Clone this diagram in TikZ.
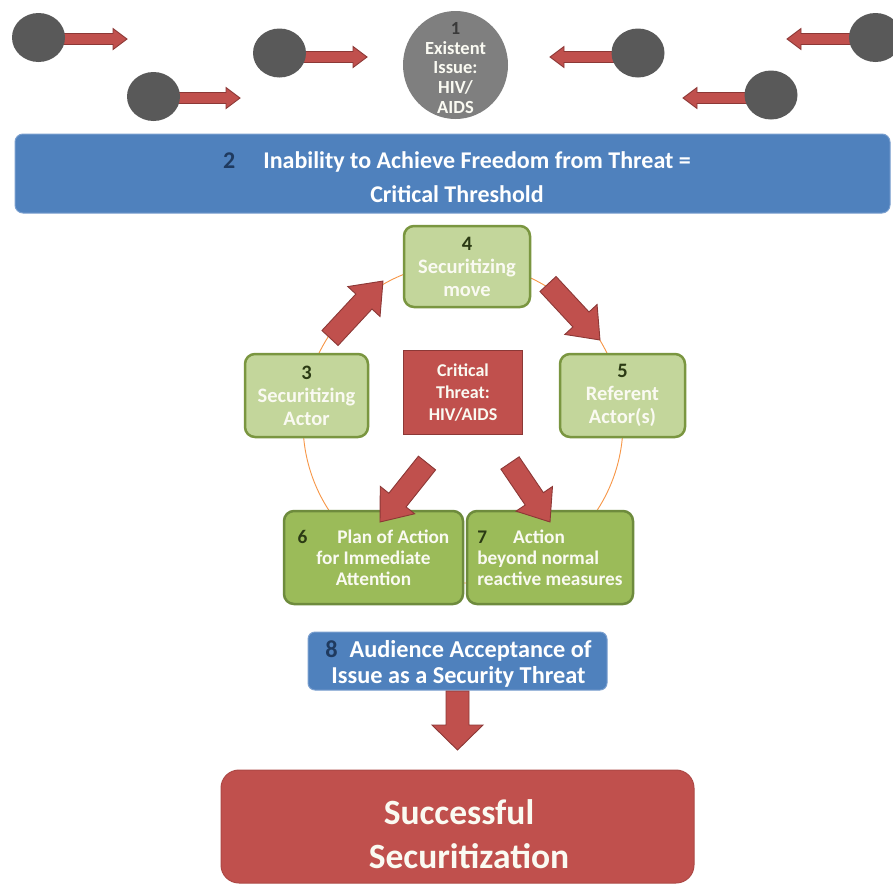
\documentclass[tikz,border=0pt]{standalone}
\usepackage{fontspec}
\setmainfont{Carlito}
\usetikzlibrary{calc,shapes.geometric}
\definecolor{arrred}{HTML}{C0504D}
\definecolor{arrborder}{HTML}{8C3836}
\definecolor{actgray}{HTML}{595959}
\definecolor{midgray}{HTML}{7F7F7F}
\definecolor{numgray}{HTML}{3A3A3A}
\definecolor{barblue}{HTML}{4F81BD}
\definecolor{barborder}{HTML}{7A9FCF}
\definecolor{numblue}{HTML}{1F3A5F}
\definecolor{lgreen}{HTML}{C3D69B}
\definecolor{lgborder}{HTML}{7A9640}
\definecolor{dgreen}{HTML}{9BBB59}
\definecolor{dgborder}{HTML}{6E8B3D}
\definecolor{numgreen}{HTML}{2B3A14}
\definecolor{ringorange}{HTML}{F79646}
\definecolor{boxtext}{HTML}{FAFAF2}

\newcommand\blockarrow[5]{%
  \path[blockarr] let \p1=(#1), \p2=(#2),
    \n1={atan2(\y2-\y1,\x2-\x1)}, \n2={veclen(\x2-\x1,\y2-\y1)} in
    [shift={(\p1)}, rotate=\n1]
    (0pt,#3pt) -- ({\n2-#5pt},#3pt) -- ({\n2-#5pt},#4pt) -- (\n2,0pt)
    -- ({\n2-#5pt},-#4pt) -- ({\n2-#5pt},-#3pt) -- (0pt,-#3pt) -- cycle;}

\tikzset{
  actor/.style={ellipse, fill=actgray, draw=none, minimum width=53pt, minimum height=49pt, inner sep=0pt},
  issue/.style={ellipse, fill=midgray, draw=none, minimum width=105pt, minimum height=108pt, inner sep=0pt},
  issuetext/.style={text=boxtext, align=center, font=\fontsize{18.5}{19.8}\selectfont\bfseries, inner sep=0pt},
  blockarr/.style={fill=arrred, draw=arrborder, line width=0.9pt, line join=miter},
  bluebar/.style={rectangle, rounded corners=8pt, fill=barblue, draw=barborder, line width=1pt, inner sep=0pt},
  bartext/.style={text=white, align=center, font=\fontsize{24}{34}\selectfont\bfseries, inner sep=0pt},
  lbox/.style={rectangle, rounded corners=10pt, fill=lgreen, draw=lgborder, line width=2.5pt,
    text=boxtext, align=center, font=\fontsize{20.5}{23}\selectfont\bfseries, inner sep=0pt},
  dbox/.style={rectangle, rounded corners=10pt, fill=dgreen, draw=dgborder, line width=2.5pt,
    text=boxtext, font=\fontsize{19.3}{21}\selectfont\bfseries, inner sep=0pt},
  critbox/.style={rectangle, fill=arrred, draw=arrborder, line width=1.5pt,
    text=boxtext, align=center, font=\fontsize{18}{22}\selectfont\bfseries, inner sep=0pt},
  audbox/.style={rectangle, rounded corners=7pt, fill=barblue, draw=barborder, line width=1pt, inner sep=0pt},
  audtext/.style={text=white, align=center, font=\fontsize{24.3}{26}\selectfont\bfseries, inner sep=0pt},
  finalbox/.style={rectangle, rounded corners=18pt, fill=arrred, draw=arrred!90!black, line width=1pt, inner sep=0pt},
  finaltext/.style={text=boxtext, align=center, font=\fontsize{35.5}{44}\selectfont\bfseries, inner sep=0pt},
  ring/.style={draw=ringorange, line width=0.9pt}
}

\begin{document}
\begin{tikzpicture}[x=1pt,y=-1pt]
\useasboundingbox (0,0) rectangle (893,884);
\fill[white] (0,0) rectangle (893,884);

% actors and their arrows
\coordinate (p1) at (38.5,37.5);  \coordinate (t1) at (127,39);
\coordinate (p2) at (153.5,96.5); \coordinate (t2) at (240,98);
\coordinate (p3) at (279.5,53);   \coordinate (t3) at (367,57);
\coordinate (p4) at (638,53);     \coordinate (t4) at (550,57);
\coordinate (p5) at (875.5,37.5); \coordinate (t5) at (787,39);
\coordinate (p6) at (771,95);     \coordinate (t6) at (683,98);
\coordinate (s1) at (38.5,39);  \coordinate (s2) at (153.5,98);
\coordinate (s3) at (279.5,57); \coordinate (s4) at (638,57);
\coordinate (s5) at (875.5,39); \coordinate (s6) at (771,98);
\blockarrow{s1}{t1}{5.5}{10.5}{14}
\blockarrow{s2}{t2}{5.5}{10.5}{14}
\blockarrow{s3}{t3}{5.5}{10.5}{14}
\blockarrow{s4}{t4}{5.5}{10.5}{14}
\blockarrow{s5}{t5}{5.5}{10.5}{14}
\blockarrow{s6}{t6}{5.5}{10.5}{14}
\node[actor] (c1) at (p1) {};
\node[actor] (c2) at (p2) {};
\node[actor] (c3) at (p3) {};
\node[actor] (c4) at (p4) {};
\node[actor] (c5) at (p5) {};
\node[actor] (c6) at (p6) {};

\node[issue] (issue) at (455.5,65) {};
\node[issuetext] (issuetxt) at (455.5,68) {{\color{numgray}1}\\Existent\\Issue:\\HIV/\\AIDS};

% threshold bar
\node[bluebar, minimum width=875pt, minimum height=79pt] (bar) at (452.5,173.5) {};
\node[bartext] (bartxt) at (457,177)
  {{\color{numblue}2}\hspace{28pt}Inability to Achieve Freedom from Threat =\\Critical Threshold};

% ring
\draw[ring] (463,423) circle[radius=160];

% cycle boxes
\node[lbox, minimum width=126pt, minimum height=81pt] (b4) at (467,266.5)
  {{\color{numgreen}4}\\Securitizing\\move};
\node[lbox, minimum width=123pt, minimum height=83pt] (b3) at (306.5,395.5)
  {{\color{numgreen}3}\\Securitizing\\Actor};
\node[lbox, minimum width=125pt, minimum height=83pt] (b5) at (622.5,395.5)
  {{\color{numgreen}5}\\Referent\\Actor(s)};
\node[critbox, minimum width=119pt, minimum height=84pt] (crit) at (463,392.5)
  {Critical\\Threat:\\HIV/AIDS};
\node[dbox, align=center, minimum width=179pt, minimum height=93pt] (b6) at (373.5,557.5)
  {{\color{numgreen}6}\hspace{30pt}Plan of Action\\for Immediate\\Attention};
\node[dbox, align=left, minimum width=166pt, minimum height=93pt] (b7) at (550,557.5)
  {{\color{numgreen}7}\hspace{26pt}Action\\beyond normal\\reactive measures};

% cycle arrows
\coordinate (a3t) at (330,338); \coordinate (a3h) at (383,281);
\coordinate (a4t) at (548,284); \coordinate (a4h) at (600,340);
\coordinate (a6t) at (427,463); \coordinate (a6h) at (380,522);
\coordinate (a7t) at (510,463); \coordinate (a7h) at (550,522);
\blockarrow{a3t}{a3h}{11}{22}{28}
\blockarrow{a4t}{a4h}{11}{22}{28}
\blockarrow{a6t}{a6h}{11}{22}{28}
\blockarrow{a7t}{a7h}{11}{22}{28}

% audience
\node[audbox, minimum width=299pt, minimum height=58pt] (b8) at (457.5,661) {};
\node[audtext] (b8txt) at (458.5,664)
  {{\color{numblue}8}\hspace{12pt}Audience Acceptance of\\Issue as a Security Threat};

% final
\node[finalbox, minimum width=473pt, minimum height=113pt] (fin) at (457.5,826.5) {};
\node[finaltext] (fintxt) at (459,834) {Successful\\\hspace{20pt}Securitization};

\coordinate (dh) at (457.5,750);
\coordinate (dt) at (457.5,691);
\blockarrow{dt}{dh}{11.5}{25.5}{25}
\end{tikzpicture}
\end{document}
